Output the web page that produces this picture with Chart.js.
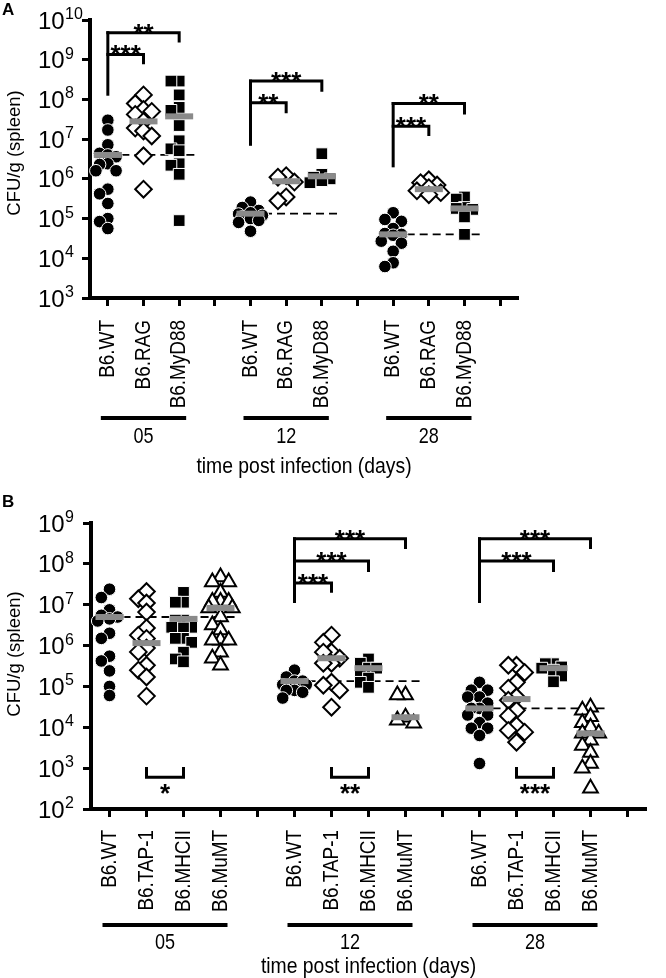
<!DOCTYPE html>
<html>
<head>
<meta charset="utf-8">
<script src="https://cdn.jsdelivr.net/npm/chart.js@4"></script>
<style>
  html, body { margin: 0; padding: 0; background: #fff; }
  #wrap { position: relative; width: 666px; height: 978px; }
  canvas { position: absolute; left: 0; }
  #chartA { top: 0; }
  #chartB { top: 490px; }
</style>
</head>
<body>
<div id="wrap">
  <canvas id="chartA" width="666" height="490"></canvas>
  <canvas id="chartB" width="666" height="488"></canvas>
</div>
<script>
const FONT = '"Liberation Sans", Arial, sans-serif';

// ---------- Panel A data ----------
const daysA = ['05', '12', '28'];
const strainsA = ['B6.WT', 'B6.RAG', 'B6.MyD88'];
const yExpA = [3, 4, 5, 6, 7, 8, 9, 10];

const a05WT = [3.0e7, 1.7e7, 7.2e6, 4.4e6, 4.0e6, 3.6e6, 2.4e6, 2.3e6, 1.6e6, 1.6e6, 5.5e5, 4.2e5, 2.4e5, 1.0e5, 8.4e4, 5.6e4];
const a05RAG = [1.3e8, 7.9e7, 5.6e7, 5.0e7, 4.2e7, 2.8e7, 1.9e7, 1.6e7, 1.2e7, 3.8e6, 5.5e5];
const a05MyD = [2.9e8, 2.9e8, 1.3e8, 6.3e7, 5.3e7, 2.2e7, 9.1e6, 5.7e6, 5.1e6, 2.4e6, 2.2e6, 1.3e6, 8.9e4];
const a12WT = [2.6e5, 1.9e5, 1.6e5, 1.4e5, 1.3e5, 1.2e5, 1.1e5, 1.0e5, 9e4, 8e4, 4.8e4];
const a12RAG = [1.2e6, 1.1e6, 8.3e5, 3.5e5, 2.8e5];
const a12MyD = [4.3e6, 1.3e6, 1.1e6, 1.0e6, 9e5, 8e5];
const a28WT = [1.4e5, 9.5e4, 8.5e4, 5.6e4, 4.2e4, 4.0e4, 3.8e4, 2.7e4, 2.4e4, 1.5e4, 7.7e3, 6.2e3];
const a28RAG = [9.5e5, 8e5, 7e5, 6e5, 5e5, 4.5e5, 4e5];
const a28MyD = [3.5e5, 3.1e5, 1.9e5, 1.8e5, 1.7e5, 1.1e5, 4e4];
const medA = [[4e6, 2.8e7, 3.75e7], [1.33e5, 8.7e5, 1.16e6], [4.0e4, 5.5e5, 1.8e5]];
// stems: [from tick, base value]; brackets: [from, to, line value, tip value, stars]
const stemsA = [[0, 1.24e8], [4, 6.8e6], [8, 1.95e6]];
const bracketsA = [
  [0, 1, 1.36e9, 7.7e8, '***'], [0, 2, 4.8e9, 2.7e9, '**'],
  [4, 5, 8.3e7, 4.5e7, '**'], [4, 6, 2.9e8, 1.55e8, '***'],
  [8, 9, 2.1e7, 1.2e7, '***'], [8, 10, 7.9e7, 4.2e7, '**']
];

// ---------- Panel B data ----------
const daysB = ['05', '12', '28'];
const strainsB = ['B6.WT', 'B6.TAP-1', 'B6.MHCII', 'B6.MuMT'];
const yExpB = [2, 3, 4, 5, 6, 7, 8, 9];

const b05WT = [2.4e7, 1.5e7, 7.5e6, 5.5e6, 5e6, 4.5e6, 4e6, 2e6, 1.5e6, 5.5e5, 4.2e5, 2.4e5, 1e5, 6e4];
const b05TAP = [2.1e7, 1.4e7, 1.1e7, 6.6e6, 2.7e6, 1.8e6, 1.5e6, 8.7e5, 7e5, 3.3e5, 2.5e5, 1.7e5, 5.8e4];
const b05MHC = [2e7, 1.15e7, 1.15e7, 4.2e6, 4.2e6, 2.8e6, 2.8e6, 2.7e6, 1.5e6, 1.5e6, 1.2e6, 6.9e5, 4.7e5, 4e5];
const b05MuMT = [4.8e7, 3.6e7, 3.6e7, 2e7, 1.2e7, 1.2e7, 1.2e7, 8.3e6, 8.3e6, 5e6, 3.2e6, 2.4e6, 1.35e6, 1.35e6, 1.35e6, 6.9e5, 4.9e5, 3.3e5];
const b12WT = [2.5e5, 1.7e5, 1.35e5, 1.35e5, 1.1e5, 1.1e5, 8e4, 8e4, 7.2e4, 5.2e4];
const b12TAP = [1.8e6, 1.2e6, 6.9e5, 6.9e5, 4.9e5, 3.7e5, 3.7e5, 1.26e5, 1.07e5, 8.1e4, 3.1e4];
const b12MHC = [4.7e5, 3.7e5, 2.8e5, 2.8e5, 2.1e5, 1.6e5, 1.26e5, 9.5e4];
const b12MuMT = [6.2e4, 6.2e4, 1.76e4, 1.48e4, 1.26e4];
const b28WT = [1.26e5, 8.1e4, 8.1e4, 5.5e4, 5.5e4, 3.9e4, 2.9e4, 2.9e4, 2e4, 2e4, 1.3e4, 9.5e3, 9.5e3, 6.3e3, 1.3e3];
const b28TAP = [3.3e5, 3.3e5, 2.2e5, 1.26e5, 9.1e4, 5.5e4, 4.6e4, 2.6e4, 1.9e4, 1.1e4, 8.4e3, 7.6e3, 4.3e3];
const b28MHC = [3.6e5, 3.6e5, 3e5, 2.8e5, 2.5e5, 1.8e5, 1.3e5];
const b28MuMT = [3.1e4, 2.6e4, 1.8e4, 1.3e4, 1e4, 7.1e3, 7.1e3, 4.8e3, 3.6e3, 2.4e3, 1.3e3, 1e3, 3.2e2];
const medB = [[5e6, 1.15e6, 4.5e6, 8.3e6], [1.35e5, 4.9e5, 2.8e5, 1.76e4], [2.9e4, 4.9e4, 2.8e5, 7.1e3]];
const stemsB = [[5, 1.1e7], [10, 1.1e7]];
const bracketsB = [
  [5, 6, 3.4e7, 1.95e7, '***'], [5, 7, 1.17e8, 6.3e7, '***'], [5, 8, 4.1e8, 2.3e8, '***'],
  [10, 12, 1.17e8, 6.3e7, '***'], [10, 13, 4.1e8, 2.3e8, '***']
];
const lowBracketsB = [[1, 2, 6e2, 1.07e3, '*'], [6, 7, 6e2, 1.07e3, '**'], [11, 12, 6e2, 1.07e3, '***']];

// simple beeswarm so overlapping points spread sideways
function swarm(vals, center, pxPerUnit) {
  const cand = [0, -9, 9, -13, 13];
  const placed = [];
  const xs = [];
  const order = vals.map((v, i) => i).sort((a, b) => vals[b] - vals[a]);
  order.forEach(i => {
    const py = Math.log10(vals[i]) * 40.6;
    let best = 0, bestD = -1;
    for (const c of cand) {
      let d = Infinity;
      for (const p of placed) d = Math.min(d, Math.hypot(p[0] - c, p[1] - py));
      if (d >= 9) { best = c; break; }
      if (d > bestD) { bestD = d; best = c; }
    }
    placed.push([best, py]);
    xs[i] = center + best / pxPerUnit;
  });
  return xs;
}

function txt(ctx, s, x, y, size, opt = {}) {
  ctx.save();
  ctx.font = (opt.bold ? 'bold ' : '') + size + 'px ' + FONT;
  ctx.textAlign = opt.align || 'left';
  ctx.textBaseline = opt.base || 'alphabetic';
  ctx.fillStyle = '#000';
  ctx.translate(x, y);
  if (opt.rot) ctx.rotate(-Math.PI / 2);
  if (opt.sx) ctx.scale(opt.sx, 1);
  ctx.fillText(s, 0, 0);
  ctx.restore();
}

function deco(cfg) {
  const n = cfg.strains.length, step = n + 1;
  return {
    id: 'deco',
    afterDatasetsDraw(chart) {
      const ctx = chart.ctx, xs = chart.scales.x, ys = chart.scales.y;
      ctx.save();
      ctx.strokeStyle = '#000';
      ctx.lineWidth = 3;
      cfg.stems.forEach(([i, base]) => {
        const top = Math.max(...cfg.brackets.filter(b => b[0] === i).map(b => b[2]));
        const x = xs.getPixelForValue(i);
        ctx.beginPath();
        ctx.moveTo(x, ys.getPixelForValue(base));
        ctx.lineTo(x, ys.getPixelForValue(top) - 1.5);
        ctx.stroke();
      });
      cfg.brackets.forEach(([i, j, yl, yt, stars]) => {
        const x1 = xs.getPixelForValue(i), x2 = xs.getPixelForValue(j);
        const pl = ys.getPixelForValue(yl), pt = ys.getPixelForValue(yt);
        ctx.beginPath();
        ctx.moveTo(x1 - 1.5, pl);
        ctx.lineTo(x2, pl);
        ctx.lineTo(x2, pt);
        ctx.stroke();
        txt(ctx, stars, (x1 + x2) / 2, pl + 9, 26, {align: 'center', bold: true});
      });
      (cfg.low || []).forEach(([i, j, yl, yt, stars]) => {
        const x1 = xs.getPixelForValue(i), x2 = xs.getPixelForValue(j);
        const pl = ys.getPixelForValue(yl), pt = ys.getPixelForValue(yt);
        ctx.beginPath();
        ctx.moveTo(x1, pt);
        ctx.lineTo(x1, pl);
        ctx.lineTo(x2, pl);
        ctx.lineTo(x2, pt);
        ctx.stroke();
        txt(ctx, stars, (x1 + x2) / 2, pl + 25, 26, {align: 'center', bold: true});
      });
      ctx.restore();
    },
    afterDraw(chart) {
      const ctx = chart.ctx, xs = chart.scales.x, ys = chart.scales.y, ca = chart.chartArea;
      cfg.yExp.forEach(e => {
        const y = ys.getPixelForValue(10 ** e);
        txt(ctx, '10', 38, y + 8.5, 24);
        txt(ctx, String(e), 65, y - 1, 16);
      });
      txt(ctx, 'CFU/g (spleen)', 15, (ca.top + ca.bottom) / 2 + cfg.yTitleOff, 18.5,
        {rot: true, align: 'center', base: 'middle'});
      cfg.days.forEach((day, d) => {
        cfg.strains.forEach((s, k) => {
          const x = xs.getPixelForValue(d * step + k);
          txt(ctx, s, x, cfg.labelTop, 22, {rot: true, align: 'right', base: 'middle', sx: 0.86});
        });
        const x1 = xs.getPixelForValue(d * step) - 7;
        const x2 = xs.getPixelForValue(d * step + n - 1) + 7;
        ctx.fillStyle = '#000';
        ctx.fillRect(x1, cfg.lineY - 2, x2 - x1, 4);
        txt(ctx, day, (x1 + x2) / 2, cfg.dayY, 22, {align: 'center', base: 'middle', sx: 0.82});
      });
      txt(ctx, 'time post infection (days)', (ca.left + ca.right) / 2, cfg.titleY, 22,
        {align: 'center', base: 'middle', sx: 0.88});
      txt(ctx, cfg.letter, 2, cfg.letterY, 17, {bold: true});
    }
  };
}

const shapes = {
  circle: {pointStyle: 'circle', pointRadius: 6.3, pointBackgroundColor: '#000', pointBorderColor: '#fff', pointBorderWidth: 1},
  diamond: {pointStyle: 'rectRot', pointRadius: 8.3, pointBackgroundColor: '#fff', pointBorderColor: '#000', pointBorderWidth: 2},
  square: {pointStyle: 'rect', pointRadius: 8.3, pointBackgroundColor: '#000', pointBorderColor: '#fff', pointBorderWidth: 1},
  triangle: {pointStyle: 'triangle', pointRadius: 8.5, pointBackgroundColor: '#fff', pointBorderColor: '#000', pointBorderWidth: 2}
};

function makeChart(id, cfg) {
  const n = cfg.strains.length, step = n + 1;
  const nTicks = cfg.days.length * step - 1;
  const datasets = [];
  cfg.values.forEach((group, d) => {
    datasets.push({
      data: [{x: d * step - 0.35, y: cfg.meds[d][0]}, {x: d * step + n - 1 + 0.45, y: cfg.meds[d][0]}],
      showLine: true, borderColor: '#000', borderWidth: 1.8, borderDash: [8, 5],
      pointRadius: 0, order: 3
    });
  });
  cfg.strains.forEach((s, k) => {
    const pts = [];
    cfg.values.forEach((group, d) => {
      const vals = group[k];
      const xsw = swarm(vals, d * step + k, cfg.pxPerUnit);
      vals.forEach((v, i) => pts.push({x: xsw[i], y: v}));
    });
    datasets.push(Object.assign({data: pts, order: 2}, shapes[cfg.shapes[k]]));
  });
  const medPts = [];
  cfg.meds.forEach((row, d) => row.forEach((m, k) => medPts.push({x: d * step + k, y: m})));
  datasets.push({
    data: medPts, pointStyle: 'line', pointRadius: 14, pointBorderWidth: 6,
    pointBorderColor: '#8a8a8a', order: 1
  });

  return new Chart(document.getElementById(id), {
    type: 'scatter',
    data: {datasets},
    options: {
      responsive: false,
      animation: false,
      events: [],
      layout: {padding: cfg.padding},
      plugins: {legend: {display: false}, tooltip: {enabled: false}},
      datasets: {scatter: {clip: false}},
      scales: {
        x: {
          type: 'linear', min: -0.5, max: nTicks + 0.5,
          afterBuildTicks: s => { s.ticks = Array.from({length: nTicks + 1}, (_, i) => ({value: i})); },
          afterFit: s => { s.height = cfg.xHeight; },
          ticks: {display: false, autoSkip: false},
          grid: {display: true, drawOnChartArea: false, drawTicks: true, tickLength: 8, tickWidth: 3, tickColor: '#000'},
          border: {display: true, color: '#000', width: 4}
        },
        y: {
          type: 'logarithmic', min: 10 ** cfg.yExp[0], max: 10 ** cfg.yExp[cfg.yExp.length - 1],
          afterBuildTicks: s => { s.ticks = cfg.yExp.map(e => ({value: 10 ** e})); },
          afterFit: s => { s.width = cfg.yWidth; },
          ticks: {display: false, autoSkip: false},
          grid: {display: true, drawOnChartArea: false, drawTicks: true, tickLength: 8, tickWidth: 3, tickColor: '#000'},
          border: {display: true, color: '#000', width: 4}
        }
      }
    },
    plugins: [deco(cfg)]
  });
}

makeChart('chartA', {
  days: daysA, strains: strainsA, yExp: yExpA,
  values: [[a05WT, a05RAG, a05MyD], [a12WT, a12RAG, a12MyD], [a28WT, a28RAG, a28MyD]],
  meds: medA, stems: stemsA, brackets: bracketsA,
  shapes: ['circle', 'diamond', 'square'],
  pxPerUnit: 38.9,
  padding: {left: 0, top: 15, right: 148, bottom: 0},
  yWidth: 90, xHeight: 192,
  labelTop: 320, lineY: 418, dayY: 437, titleY: 467, yTitleOff: -6,
  letter: 'A', letterY: 15
});

makeChart('chartB', {
  days: daysB, strains: strainsB, yExp: yExpB,
  values: [[b05WT, b05TAP, b05MHC, b05MuMT], [b12WT, b12TAP, b12MHC, b12MuMT], [b28WT, b28TAP, b28MHC, b28MuMT]],
  meds: medB, stems: stemsB, brackets: bracketsB, low: lowBracketsB,
  shapes: ['circle', 'diamond', 'square', 'triangle'],
  pxPerUnit: 40.8,
  padding: {left: 0, top: 33, right: 4, bottom: 0},
  yWidth: 91, xHeight: 169,
  labelTop: 340, lineY: 435, dayY: 453, titleY: 477, yTitleOff: -12,
  letter: 'B', letterY: 17
});
</script>
</body>
</html>
